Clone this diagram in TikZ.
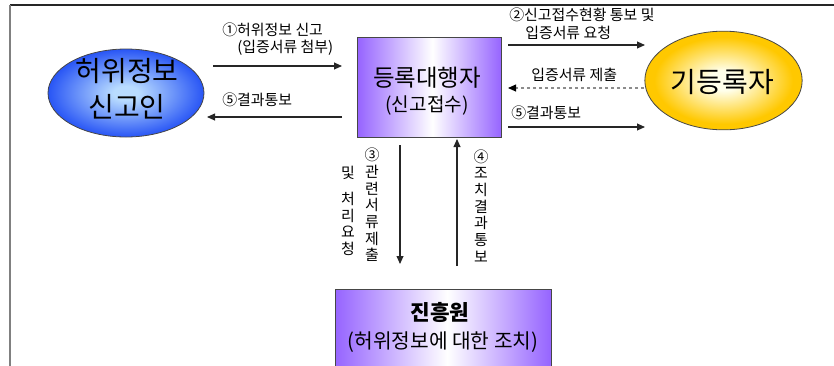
\documentclass[tikz,border=0pt]{standalone}
\usepackage{fontspec}
\setmainfont{Noto Sans CJK KR}
\usetikzlibrary{arrows.meta,shapes.geometric}
\definecolor{purp}{RGB}{150,100,255}
\definecolor{bluein}{RGB}{185,220,255}
\definecolor{blueout}{RGB}{40,85,245}
\definecolor{yelin}{RGB}{255,255,235}
\definecolor{yelout}{RGB}{255,200,0}
\definecolor{edgec}{RGB}{70,70,70}
\pgfdeclarehorizontalshading{purpshade}{100bp}{color(0bp)=(purp); color(25bp)=(purp); color(51bp)=(white); color(75bp)=(purp); color(100bp)=(purp)}
\pgfdeclareradialshading{blueshade}{\pgfpoint{0bp}{0bp}}{color(0bp)=(bluein); color(4bp)=(bluein); color(25bp)=(blueout); color(50bp)=(blueout)}
\pgfdeclareradialshading{yelshade}{\pgfpoint{0bp}{0bp}}{color(0bp)=(yelin); color(5bp)=(yelin); color(22bp)=(yelout); color(50bp)=(yelout)}
\newcommand{\fsz}[1]{\fontsize{#1}{#1}\selectfont}
\tikzset{
  x=0.75pt, y=-0.75pt,
  ellnode/.style={ellipse, draw=edgec, line width=0.6pt, inner sep=0pt},
  boxnode/.style={rectangle, draw=edgec, line width=0.7pt, shading=purpshade, inner sep=0pt},
  txt/.style={inner sep=0pt},
  arr/.style={draw=black!85, line width=0.8pt, -{Triangle[length=6pt,width=5.2pt]}},
  dotarr/.style={draw=black!45, line width=0.8pt, dash pattern=on 2pt off 2.5pt, -{Triangle[length=6pt,width=5.2pt,color=black,fill=black]}},
  lbl/.style={inner sep=0pt, anchor=west, font=\fsz{11.2pt}},
  vlbl/.style={inner sep=0pt, align=center, font=\fontsize{11.2pt}{12.5pt}\selectfont},
}
\begin{document}
\begin{tikzpicture}
\useasboundingbox (0,0) rectangle (834,365);
\clip (0,0) rectangle (834,365);
% frame
\draw[black!85, line width=1.2pt] (10,5) -- (834,5);
\draw[black!50, line width=1.6pt] (10,5) -- (10,366);
% shapes
\node[ellnode, shading=blueshade, minimum width=117pt, minimum height=66pt] (rep) at (126,93) {};
\node[boxnode, minimum width=108pt, minimum height=74.5pt] (agt) at (429.5,87.5) {};
\node[ellnode, shading=yelshade, minimum width=118pt, minimum height=74pt] (reg) at (723.5,80.5) {};
\node[boxnode, minimum width=162pt, minimum height=80pt, anchor=north] (kor) at (443,289) {};
% texts in shapes
\node[txt, font=\fsz{21pt}] (repA) at (127,71) {허위정보};
\node[txt, font=\fsz{21pt}] (repB) at (127,107) {신고인};
\node[txt, font=\fsz{17.6pt}] (agtA) at (427,78) {등록대행자};
\node[txt, font=\fsz{14.3pt}] (agtB) at (427,105) {(신고접수)};
\node[txt, font=\fsz{21pt}] (regA) at (722.5,82) {기등록자};
\node[txt, font=\fsz{16pt}\bfseries] (korA) at (440,312) {진흥원};
\node[txt, font=\fsz{15.2pt}] (korB) at (443,342) {(허위정보에 대한 조치)};
% connector end points
\coordinate (a1s) at (213,66);  \coordinate (a1e) at (342,66);
\coordinate (b1s) at (342,117); \coordinate (b1e) at (207,117);
\coordinate (a2s) at (508,45);  \coordinate (a2e) at (645,45);
\coordinate (d2s) at (644,88);  \coordinate (d2e) at (508,88);
\coordinate (b2s) at (508,127); \coordinate (b2e) at (645,127);
\coordinate (a3s) at (400,145); \coordinate (a3e) at (400,264);
\coordinate (a4s) at (457,266); \coordinate (a4e) at (457,139);
% arrows
\draw[arr] (a1s) -- (a1e);
\draw[arr] (b1s) -- (b1e);
\draw[arr] (a2s) -- (a2e);
\draw[dotarr] (d2s) -- (d2e);
\draw[arr] (b2s) -- (b2e);
\draw[arr] (a3s) -- (a3e);
\draw[arr] (a4s) -- (a4e);
% labels
\node[lbl] (l1a) at (222,30) {①허위정보 신고};
\node[lbl] (l1b) at (237,48) {(입증서류 첨부)};
\node[lbl] (l5a) at (222,100) {⑤결과통보};
\node[lbl] (l2a) at (509,15) {②신고접수현황 통보 및};
\node[lbl] (l2b) at (525,33) {입증서류 요청};
\node[lbl] (l2c) at (531,75) {입증서류 제출};
\node[lbl] (l5b) at (511,113) {⑤결과통보};
\node[vlbl] (l3a) at (372,205) {③\\관\\련\\서\\류\\제\\출};
\node[vlbl] (l3b) at (348,211) {및\\[7pt]처\\리\\요\\청};
\node[vlbl] (l4a) at (481,206) {④\\조\\치\\결\\과\\통\\보};
\end{tikzpicture}
\end{document}
